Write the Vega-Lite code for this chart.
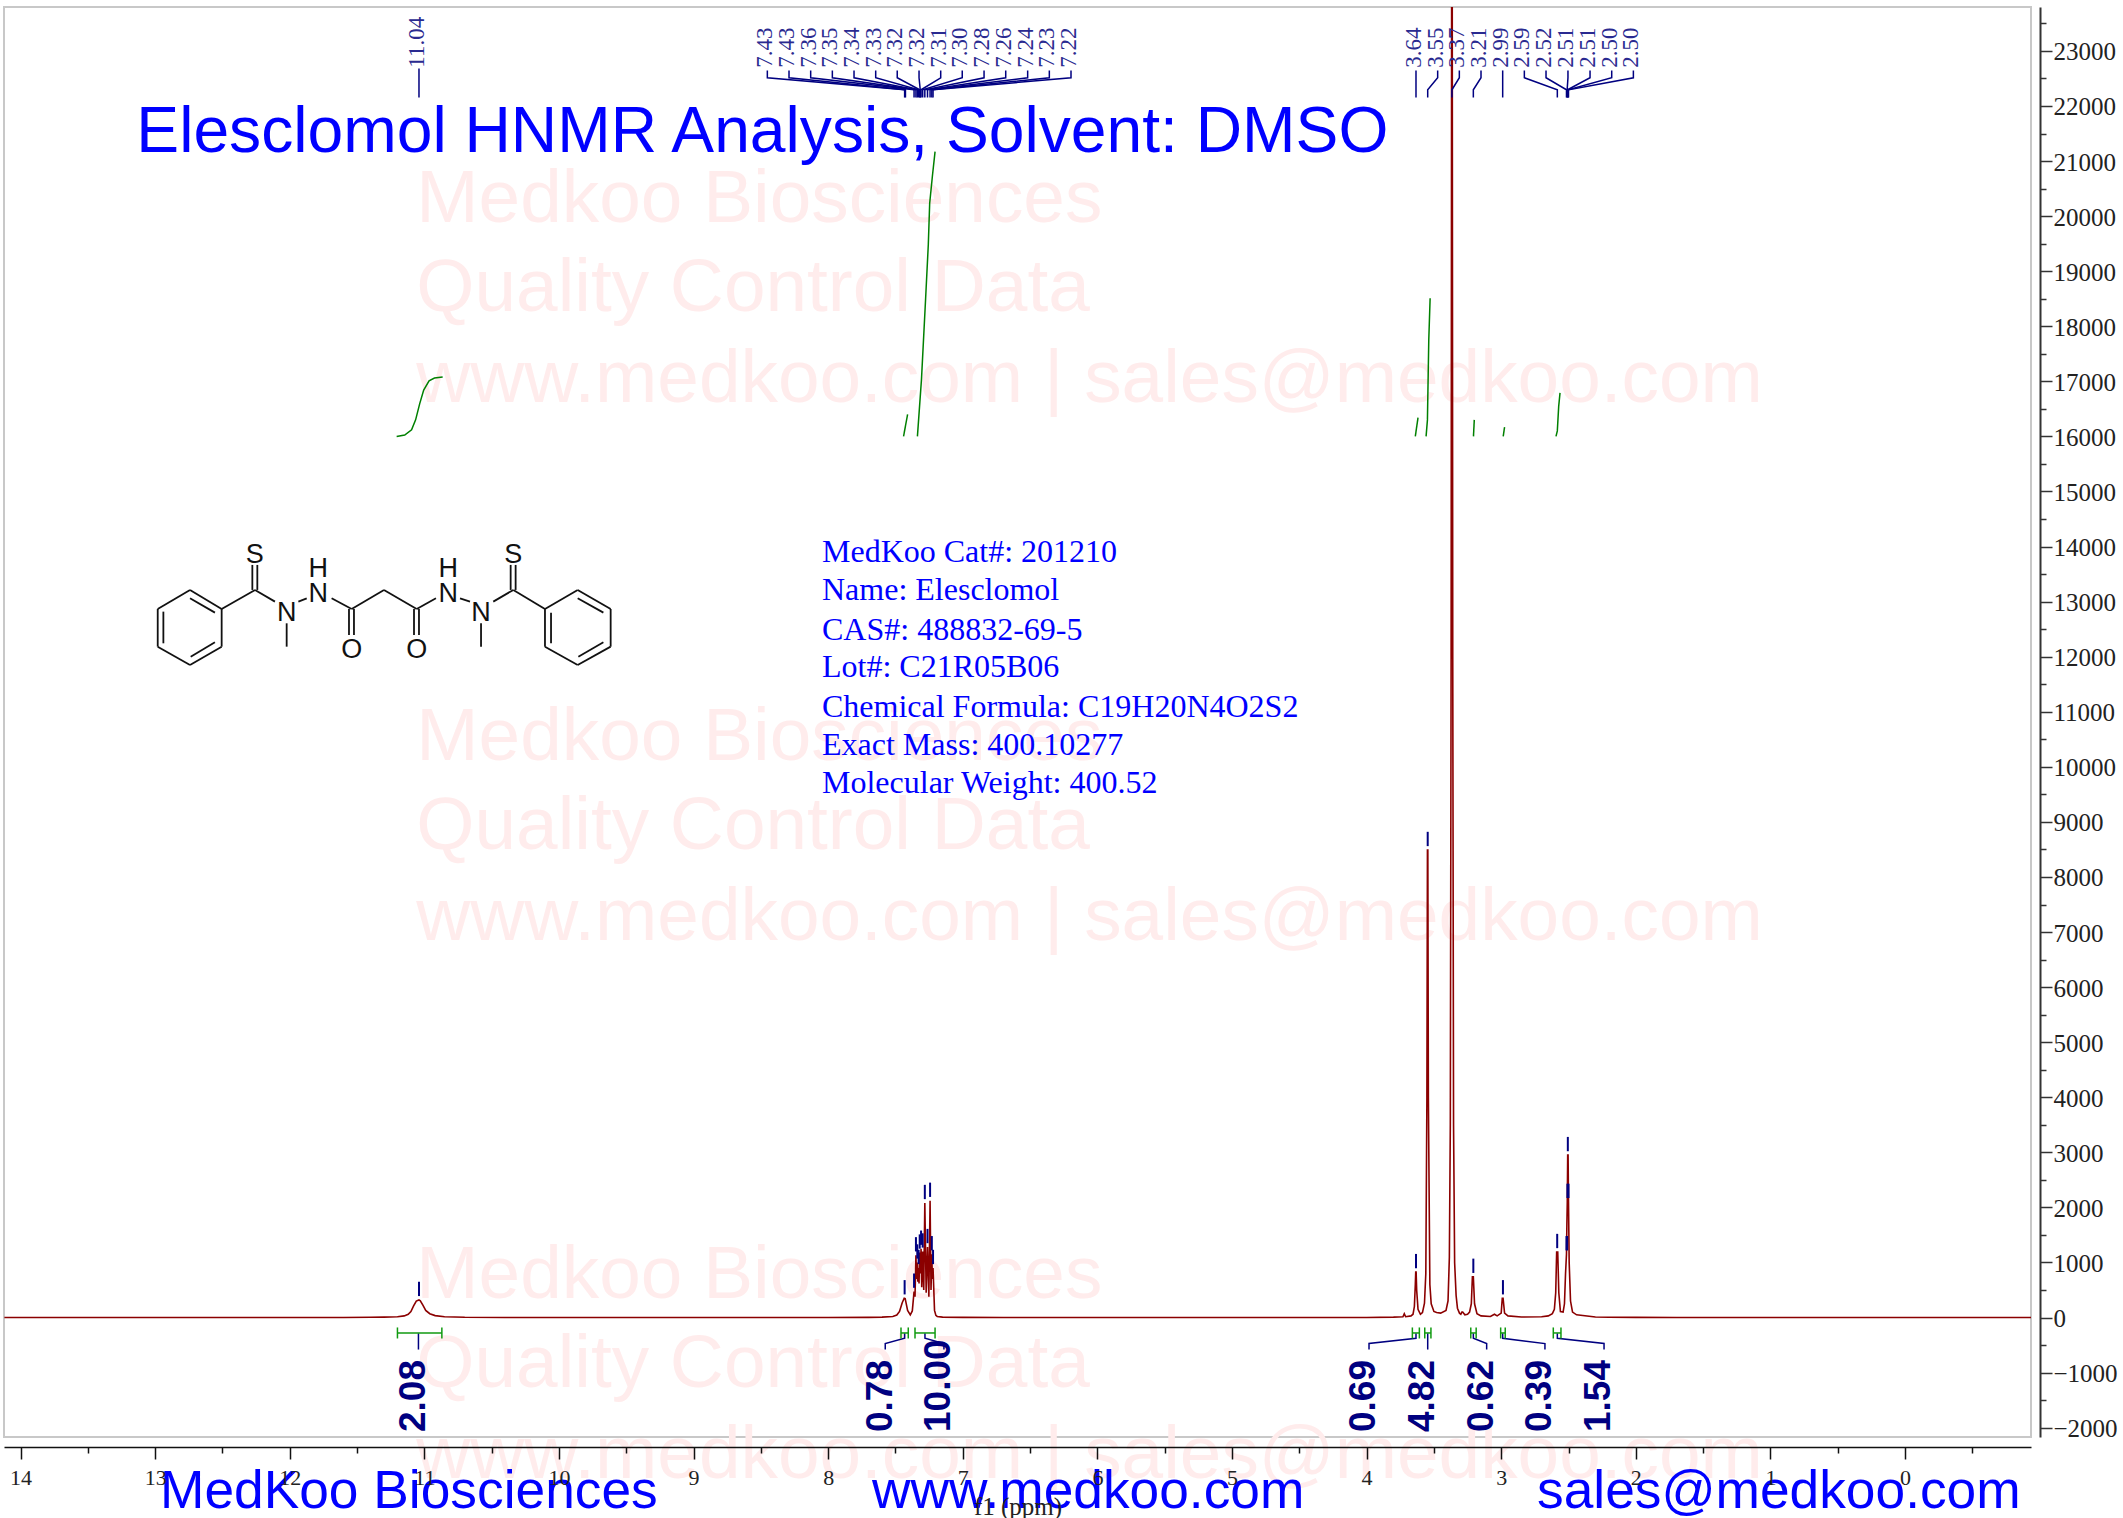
{"$schema":"https://vega.github.io/schema/vega-lite/v6.json","width":2027,"height":1430,"autosize":{"type":"none"},"padding":{"left":4,"top":7,"right":92,"bottom":81},"background":"white","config":{"view":{"stroke":"#c8c8c8","strokeWidth":2}},
"encoding":{"x":{"field":"x","type":"quantitative","scale":{"domain":[-0.936,14.123],"reverse":true,"nice":false,"zero":false},"axis":{"orient":"bottom","offset":10,"zindex":1,"title":"f1 (ppm)","titleFont":"Liberation Serif","titleFontSize":25,"titleFontWeight":"normal","titleColor":"#222","titlePadding":6,"grid":false,"values":[-0.5,0,0.5,1,1.5,2,2.5,3,3.5,4,4.5,5,5.5,6,6.5,7,7.5,8,8.5,9,9.5,10,10.5,11,11.5,12,12.5,13,13.5,14],"labelExpr":"datum.value % 1 === 0 ? format(datum.value,'d') : ''","labelOverlap":false,"labelFlush":false,"labelFont":"Liberation Serif","labelFontSize":22,"labelColor":"#222","labelPadding":8,"domainColor":"#111","domainWidth":1.5,"tickColor":"#111","tickWidth":1.5,"tickSize":{"condition":{"test":"datum.value % 1 === 0","value":12},"value":6}}},"y":{"field":"y","type":"quantitative","scale":{"domain":[-2169,23797],"nice":false,"zero":false},"axis":{"orient":"right","offset":9,"zindex":1,"title":null,"grid":false,"values":[-2000,-1500,-1000,-500,0,500,1000,1500,2000,2500,3000,3500,4000,4500,5000,5500,6000,6500,7000,7500,8000,8500,9000,9500,10000,10500,11000,11500,12000,12500,13000,13500,14000,14500,15000,15500,16000,16500,17000,17500,18000,18500,19000,19500,20000,20500,21000,21500,22000,22500,23000,23500],"labelExpr":"datum.value % 1000 === 0 ? format(datum.value,'d') : ''","labelOverlap":false,"labelFlush":false,"labelFont":"Liberation Serif","labelFontSize":25,"labelColor":"#222","labelPadding":1,"labelOffset":1,"domainColor":"#333","domainWidth":2,"tickColor":"#333","tickWidth":1.5,"tickSize":{"condition":{"test":"datum.value % 1000 === 0","value":12},"value":6}}}},
"layer":[
{"data":{"values":[{"t":"Medkoo Biosciences","x":11.06,"y":20290},{"t":"Quality Control Data","x":11.06,"y":18672},{"t":"www.medkoo.com | sales@medkoo.com","x":11.06,"y":17020},{"t":"Medkoo Biosciences","x":11.06,"y":10516},{"t":"Quality Control Data","x":11.06,"y":8900},{"t":"www.medkoo.com | sales@medkoo.com","x":11.06,"y":7246},{"t":"Medkoo Biosciences","x":11.06,"y":761},{"t":"Quality Control Data","x":11.06,"y":-855},{"t":"www.medkoo.com | sales@medkoo.com","x":11.06,"y":-2508}]},"mark":{"type":"text","font":"Liberation Sans","fontSize":74.8,"color":"#ffecec","align":"left","baseline":"middle"},"encoding":{"text":{"field":"t"}}},
{"data":{"values":[{"x":14.12,"y":0},{"x":13,"y":0},{"x":12,"y":0},{"x":11.6,"y":2},{"x":11.4,"y":5},{"x":11.3,"y":8},{"x":11.2,"y":15},{"x":11.15,"y":30},{"x":11.12,"y":60},{"x":11.1,"y":110},{"x":11.08,"y":210},{"x":11.06,"y":300},{"x":11.04,"y":320},{"x":11.03,"y":305},{"x":11.01,"y":220},{"x":10.99,"y":130},{"x":10.96,"y":70},{"x":10.92,"y":35},{"x":10.85,"y":15},{"x":10.7,"y":5},{"x":10.4,"y":2},{"x":10,"y":0},{"x":9,"y":0},{"x":8,"y":0},{"x":7.7,"y":3},{"x":7.6,"y":8},{"x":7.52,"y":20},{"x":7.49,"y":45},{"x":7.47,"y":110},{"x":7.45,"y":270},{"x":7.435,"y":350},{"x":7.428,"y":345},{"x":7.41,"y":130},{"x":7.39,"y":50},{"x":7.375,"y":120},{"x":7.362,"y":470},{"x":7.355,"y":380},{"x":7.348,"y":1130},{"x":7.344,"y":700},{"x":7.338,"y":1000},{"x":7.334,"y":650},{"x":7.328,"y":900},{"x":7.325,"y":620},{"x":7.32,"y":1180},{"x":7.316,"y":800},{"x":7.31,"y":1250},{"x":7.305,"y":550},{"x":7.298,"y":1200},{"x":7.29,"y":500},{"x":7.282,"y":2080},{"x":7.272,"y":450},{"x":7.262,"y":1280},{"x":7.252,"y":380},{"x":7.243,"y":2120},{"x":7.236,"y":500},{"x":7.23,"y":1150},{"x":7.226,"y":700},{"x":7.221,"y":900},{"x":7.21,"y":130},{"x":7.2,"y":40},{"x":7.19,"y":20},{"x":7.15,"y":8},{"x":7,"y":3},{"x":6.7,"y":1},{"x":6,"y":0},{"x":5,"y":0},{"x":4.5,"y":0},{"x":4,"y":2},{"x":3.8,"y":8},{"x":3.73,"y":15},{"x":3.72,"y":70},{"x":3.71,"y":15},{"x":3.67,"y":30},{"x":3.655,"y":60},{"x":3.645,"y":200},{"x":3.638,"y":600},{"x":3.635,"y":825},{"x":3.632,"y":825},{"x":3.628,"y":500},{"x":3.618,"y":150},{"x":3.6,"y":60},{"x":3.585,"y":90},{"x":3.57,"y":260},{"x":3.56,"y":800},{"x":3.552,"y":4000},{"x":3.548,"y":8490},{"x":3.545,"y":8490},{"x":3.541,"y":4000},{"x":3.53,"y":600},{"x":3.52,"y":250},{"x":3.5,"y":110},{"x":3.48,"y":90},{"x":3.45,"y":80},{"x":3.41,"y":130},{"x":3.395,"y":300},{"x":3.385,"y":1100},{"x":3.378,"y":3500},{"x":3.372,"y":12000},{"x":3.368,"y":25000},{"x":3.364,"y":25000},{"x":3.36,"y":12000},{"x":3.354,"y":3500},{"x":3.346,"y":1000},{"x":3.335,"y":400},{"x":3.325,"y":170},{"x":3.31,"y":80},{"x":3.3,"y":60},{"x":3.292,"y":100},{"x":3.286,"y":100},{"x":3.27,"y":50},{"x":3.25,"y":60},{"x":3.235,"y":100},{"x":3.222,"y":250},{"x":3.214,"y":740},{"x":3.207,"y":740},{"x":3.198,"y":250},{"x":3.18,"y":70},{"x":3.15,"y":30},{"x":3.08,"y":20},{"x":3.05,"y":60},{"x":3.03,"y":30},{"x":3,"y":80},{"x":2.992,"y":350},{"x":2.986,"y":350},{"x":2.975,"y":80},{"x":2.95,"y":30},{"x":2.85,"y":10},{"x":2.7,"y":15},{"x":2.65,"y":30},{"x":2.62,"y":70},{"x":2.605,"y":150},{"x":2.595,"y":450},{"x":2.588,"y":1190},{"x":2.58,"y":1190},{"x":2.572,"y":450},{"x":2.56,"y":110},{"x":2.54,"y":100},{"x":2.53,"y":250},{"x":2.522,"y":800},{"x":2.515,"y":1150},{"x":2.512,"y":1700},{"x":2.509,"y":2100},{"x":2.506,"y":2950},{"x":2.503,"y":2950},{"x":2.5,"y":2100},{"x":2.495,"y":1000},{"x":2.485,"y":300},{"x":2.47,"y":100},{"x":2.44,"y":50},{"x":2.3,"y":10},{"x":2.2,"y":5},{"x":2,"y":3},{"x":1.7,"y":1},{"x":1,"y":0},{"x":0,"y":0},{"x":-0.936,"y":0}]},"mark":{"type":"line","color":"#8b0000","strokeWidth":1.6,"clip":true,"interpolate":"linear"}},
{"data":{"values":[{"x":11.04,"y":390,"x2":11.04,"y2":650},{"x":7.432,"y":420,"x2":7.432,"y2":680},{"x":7.362,"y":540,"x2":7.362,"y2":800},{"x":7.348,"y":1200,"x2":7.348,"y2":1460},{"x":7.338,"y":1070,"x2":7.338,"y2":1330},{"x":7.328,"y":970,"x2":7.328,"y2":1230},{"x":7.32,"y":1250,"x2":7.32,"y2":1510},{"x":7.31,"y":1320,"x2":7.31,"y2":1580},{"x":7.298,"y":1270,"x2":7.298,"y2":1530},{"x":7.282,"y":2150,"x2":7.282,"y2":2410},{"x":7.262,"y":1350,"x2":7.262,"y2":1610},{"x":7.243,"y":2190,"x2":7.243,"y2":2450},{"x":7.23,"y":1220,"x2":7.23,"y2":1480},{"x":7.221,"y":970,"x2":7.221,"y2":1230},{"x":3.633,"y":895,"x2":3.633,"y2":1155},{"x":3.546,"y":8560,"x2":3.546,"y2":8820},{"x":3.207,"y":810,"x2":3.207,"y2":1070},{"x":2.987,"y":420,"x2":2.987,"y2":680},{"x":2.584,"y":1260,"x2":2.584,"y2":1520},{"x":2.515,"y":1220,"x2":2.515,"y2":1480},{"x":2.51,"y":1220,"x2":2.51,"y2":1480},{"x":2.508,"y":2170,"x2":2.508,"y2":2430},{"x":2.505,"y":3020,"x2":2.505,"y2":3280},{"x":2.5,"y":2170,"x2":2.5,"y2":2430}]},"mark":{"type":"rule","color":"#000080","strokeWidth":2},"encoding":{"x2":{"field":"x2"},"y2":{"field":"y2"}}},
{"data":{"values":[{"id":1,"k":1,"x":11.04,"y":22680},{"id":1,"k":2,"x":11.04,"y":22154},{"id":2,"k":1,"x":8.452,"y":22645},{"id":2,"k":2,"x":8.452,"y":22512},{"id":2,"k":3,"x":7.432,"y":22294},{"id":2,"k":4,"x":7.432,"y":22154},{"id":3,"k":1,"x":8.291,"y":22645},{"id":3,"k":2,"x":8.291,"y":22512},{"id":3,"k":3,"x":7.426,"y":22294},{"id":3,"k":4,"x":7.426,"y":22154},{"id":4,"k":1,"x":8.13,"y":22645},{"id":4,"k":2,"x":8.13,"y":22512},{"id":4,"k":3,"x":7.362,"y":22294},{"id":4,"k":4,"x":7.362,"y":22154},{"id":5,"k":1,"x":7.969,"y":22645},{"id":5,"k":2,"x":7.969,"y":22512},{"id":5,"k":3,"x":7.348,"y":22294},{"id":5,"k":4,"x":7.348,"y":22154},{"id":6,"k":1,"x":7.808,"y":22645},{"id":6,"k":2,"x":7.808,"y":22512},{"id":6,"k":3,"x":7.338,"y":22294},{"id":6,"k":4,"x":7.338,"y":22154},{"id":7,"k":1,"x":7.647,"y":22645},{"id":7,"k":2,"x":7.647,"y":22512},{"id":7,"k":3,"x":7.328,"y":22294},{"id":7,"k":4,"x":7.328,"y":22154},{"id":8,"k":1,"x":7.487,"y":22645},{"id":8,"k":2,"x":7.487,"y":22512},{"id":8,"k":3,"x":7.32,"y":22294},{"id":8,"k":4,"x":7.32,"y":22154},{"id":9,"k":1,"x":7.325,"y":22645},{"id":9,"k":2,"x":7.325,"y":22512},{"id":9,"k":3,"x":7.316,"y":22294},{"id":9,"k":4,"x":7.316,"y":22154},{"id":10,"k":1,"x":7.164,"y":22645},{"id":10,"k":2,"x":7.164,"y":22512},{"id":10,"k":3,"x":7.31,"y":22294},{"id":10,"k":4,"x":7.31,"y":22154},{"id":11,"k":1,"x":7.004,"y":22645},{"id":11,"k":2,"x":7.004,"y":22512},{"id":11,"k":3,"x":7.298,"y":22294},{"id":11,"k":4,"x":7.298,"y":22154},{"id":12,"k":1,"x":6.842,"y":22645},{"id":12,"k":2,"x":6.842,"y":22512},{"id":12,"k":3,"x":7.282,"y":22294},{"id":12,"k":4,"x":7.282,"y":22154},{"id":13,"k":1,"x":6.681,"y":22645},{"id":13,"k":2,"x":6.681,"y":22512},{"id":13,"k":3,"x":7.262,"y":22294},{"id":13,"k":4,"x":7.262,"y":22154},{"id":14,"k":1,"x":6.518,"y":22645},{"id":14,"k":2,"x":6.518,"y":22512},{"id":14,"k":3,"x":7.243,"y":22294},{"id":14,"k":4,"x":7.243,"y":22154},{"id":15,"k":1,"x":6.357,"y":22645},{"id":15,"k":2,"x":6.357,"y":22512},{"id":15,"k":3,"x":7.23,"y":22294},{"id":15,"k":4,"x":7.23,"y":22154},{"id":16,"k":1,"x":6.196,"y":22645},{"id":16,"k":2,"x":6.196,"y":22512},{"id":16,"k":3,"x":7.221,"y":22294},{"id":16,"k":4,"x":7.221,"y":22154},{"id":17,"k":1,"x":3.633,"y":22645},{"id":17,"k":2,"x":3.633,"y":22154},{"id":18,"k":1,"x":3.472,"y":22645},{"id":18,"k":2,"x":3.472,"y":22512},{"id":18,"k":3,"x":3.546,"y":22294},{"id":18,"k":4,"x":3.546,"y":22154},{"id":19,"k":1,"x":3.311,"y":22645},{"id":19,"k":2,"x":3.311,"y":22512},{"id":19,"k":3,"x":3.366,"y":22294},{"id":19,"k":4,"x":3.366,"y":22154},{"id":20,"k":1,"x":3.15,"y":22645},{"id":20,"k":2,"x":3.15,"y":22512},{"id":20,"k":3,"x":3.207,"y":22294},{"id":20,"k":4,"x":3.207,"y":22154},{"id":21,"k":1,"x":2.989,"y":22645},{"id":21,"k":2,"x":2.989,"y":22154},{"id":22,"k":1,"x":2.828,"y":22645},{"id":22,"k":2,"x":2.828,"y":22512},{"id":22,"k":3,"x":2.583,"y":22294},{"id":22,"k":4,"x":2.583,"y":22154},{"id":23,"k":1,"x":2.667,"y":22645},{"id":23,"k":2,"x":2.667,"y":22512},{"id":23,"k":3,"x":2.515,"y":22294},{"id":23,"k":4,"x":2.515,"y":22154},{"id":24,"k":1,"x":2.504,"y":22645},{"id":24,"k":2,"x":2.504,"y":22512},{"id":24,"k":3,"x":2.51,"y":22294},{"id":24,"k":4,"x":2.51,"y":22154},{"id":25,"k":1,"x":2.34,"y":22645},{"id":25,"k":2,"x":2.34,"y":22512},{"id":25,"k":3,"x":2.507,"y":22294},{"id":25,"k":4,"x":2.507,"y":22154},{"id":26,"k":1,"x":2.179,"y":22645},{"id":26,"k":2,"x":2.179,"y":22512},{"id":26,"k":3,"x":2.503,"y":22294},{"id":26,"k":4,"x":2.503,"y":22154},{"id":27,"k":1,"x":2.018,"y":22645},{"id":27,"k":2,"x":2.018,"y":22512},{"id":27,"k":3,"x":2.5,"y":22294},{"id":27,"k":4,"x":2.5,"y":22154},{"id":31,"k":1,"x":11.044,"y":-285},{"id":31,"k":2,"x":11.044,"y":-581},{"id":32,"k":1,"x":7.432,"y":-285},{"id":32,"k":2,"x":7.432,"y":-376},{"id":32,"k":3,"x":7.576,"y":-472},{"id":32,"k":4,"x":7.576,"y":-581},{"id":33,"k":1,"x":7.281,"y":-285},{"id":33,"k":2,"x":7.281,"y":-376},{"id":33,"k":3,"x":7.14,"y":-472},{"id":33,"k":4,"x":7.14,"y":-581},{"id":34,"k":1,"x":3.633,"y":-285},{"id":34,"k":2,"x":3.633,"y":-376},{"id":34,"k":3,"x":3.982,"y":-472},{"id":34,"k":4,"x":3.982,"y":-581},{"id":35,"k":1,"x":3.546,"y":-285},{"id":35,"k":2,"x":3.546,"y":-581},{"id":36,"k":1,"x":3.207,"y":-285},{"id":36,"k":2,"x":3.207,"y":-376},{"id":36,"k":3,"x":3.108,"y":-472},{"id":36,"k":4,"x":3.108,"y":-581},{"id":37,"k":1,"x":2.989,"y":-285},{"id":37,"k":2,"x":2.989,"y":-376},{"id":37,"k":3,"x":2.675,"y":-472},{"id":37,"k":4,"x":2.675,"y":-581},{"id":38,"k":1,"x":2.583,"y":-285},{"id":38,"k":2,"x":2.583,"y":-376},{"id":38,"k":3,"x":2.236,"y":-472},{"id":38,"k":4,"x":2.236,"y":-581}]},"mark":{"type":"line","color":"#000080","strokeWidth":1.5},"encoding":{"detail":{"field":"id"},"order":{"field":"k"}}},
{"data":{"values":[{"id":1,"k":1,"x":11.206,"y":16000},{"id":1,"k":2,"x":11.146,"y":16025},{"id":1,"k":3,"x":11.095,"y":16120},{"id":1,"k":4,"x":11.065,"y":16300},{"id":1,"k":5,"x":11.035,"y":16590},{"id":1,"k":6,"x":11.005,"y":16840},{"id":1,"k":7,"x":10.965,"y":17010},{"id":1,"k":8,"x":10.925,"y":17060},{"id":1,"k":9,"x":10.864,"y":17080},{"id":2,"k":1,"x":7.44,"y":16000},{"id":2,"k":2,"x":7.41,"y":16400},{"id":3,"k":1,"x":7.337,"y":16000},{"id":3,"k":2,"x":7.307,"y":17030},{"id":3,"k":3,"x":7.276,"y":18510},{"id":3,"k":4,"x":7.256,"y":19490},{"id":3,"k":5,"x":7.246,"y":20230},{"id":3,"k":6,"x":7.226,"y":20720},{"id":3,"k":7,"x":7.206,"y":21170},{"id":4,"k":1,"x":3.638,"y":16000},{"id":4,"k":2,"x":3.618,"y":16340},{"id":5,"k":1,"x":3.558,"y":16000},{"id":5,"k":2,"x":3.548,"y":16300},{"id":5,"k":3,"x":3.538,"y":17760},{"id":5,"k":4,"x":3.528,"y":18510},{"id":6,"k":1,"x":3.206,"y":16000},{"id":6,"k":2,"x":3.2,"y":16300},{"id":7,"k":1,"x":2.985,"y":16000},{"id":7,"k":2,"x":2.975,"y":16170},{"id":8,"k":1,"x":2.593,"y":16000},{"id":8,"k":2,"x":2.583,"y":16100},{"id":8,"k":3,"x":2.573,"y":16540},{"id":8,"k":4,"x":2.563,"y":16790}]},"mark":{"type":"line","color":"#008000","strokeWidth":1.5},"encoding":{"detail":{"field":"id"},"order":{"field":"k"}}},
{"data":{"values":[{"x":11.2,"x2":10.87,"y":-280,"y2":-280},{"x":11.2,"x2":11.2,"y":-180,"y2":-380},{"x":10.87,"x2":10.87,"y":-180,"y2":-380},{"x":7.459,"x2":7.405,"y":-280,"y2":-280},{"x":7.459,"x2":7.459,"y":-180,"y2":-380},{"x":7.405,"x2":7.405,"y":-180,"y2":-380},{"x":7.355,"x2":7.206,"y":-280,"y2":-280},{"x":7.355,"x2":7.355,"y":-180,"y2":-380},{"x":7.206,"x2":7.206,"y":-180,"y2":-380},{"x":3.66,"x2":3.608,"y":-280,"y2":-280},{"x":3.66,"x2":3.66,"y":-180,"y2":-380},{"x":3.608,"x2":3.608,"y":-180,"y2":-380},{"x":3.568,"x2":3.522,"y":-280,"y2":-280},{"x":3.568,"x2":3.568,"y":-180,"y2":-380},{"x":3.522,"x2":3.522,"y":-180,"y2":-380},{"x":3.226,"x2":3.186,"y":-280,"y2":-280},{"x":3.226,"x2":3.226,"y":-180,"y2":-380},{"x":3.186,"x2":3.186,"y":-180,"y2":-380},{"x":3.004,"x2":2.97,"y":-280,"y2":-280},{"x":3.004,"x2":3.004,"y":-180,"y2":-380},{"x":2.97,"x2":2.97,"y":-180,"y2":-380},{"x":2.613,"x2":2.556,"y":-280,"y2":-280},{"x":2.613,"x2":2.613,"y":-180,"y2":-380},{"x":2.556,"x2":2.556,"y":-180,"y2":-380}]},"mark":{"type":"rule","color":"#109a10","strokeWidth":1.5},"encoding":{"x2":{"field":"x2"},"y2":{"field":"y2"}}},
{"data":{"values":[{"t":"11.04","x":11.055,"y":22694},{"t":"7.43","x":8.467,"y":22694},{"t":"7.43","x":8.306,"y":22694},{"t":"7.36","x":8.145,"y":22694},{"t":"7.35","x":7.984,"y":22694},{"t":"7.34","x":7.823,"y":22694},{"t":"7.33","x":7.662,"y":22694},{"t":"7.32","x":7.502,"y":22694},{"t":"7.32","x":7.34,"y":22694},{"t":"7.31","x":7.179,"y":22694},{"t":"7.30","x":7.019,"y":22694},{"t":"7.28","x":6.857,"y":22694},{"t":"7.26","x":6.696,"y":22694},{"t":"7.24","x":6.533,"y":22694},{"t":"7.23","x":6.372,"y":22694},{"t":"7.22","x":6.211,"y":22694},{"t":"3.64","x":3.648,"y":22694},{"t":"3.55","x":3.487,"y":22694},{"t":"3.37","x":3.326,"y":22694},{"t":"3.21","x":3.165,"y":22694},{"t":"2.99","x":3.004,"y":22694},{"t":"2.59","x":2.843,"y":22694},{"t":"2.52","x":2.682,"y":22694},{"t":"2.51","x":2.519,"y":22694},{"t":"2.51","x":2.355,"y":22694},{"t":"2.50","x":2.194,"y":22694},{"t":"2.50","x":2.033,"y":22694}]},"mark":{"type":"text","font":"Liberation Serif","fontSize":23,"color":"#2a2a90","angle":270,"align":"left","baseline":"middle"},"encoding":{"text":{"field":"t"}}},
{"data":{"values":[{"t":"2.08","x":11.075,"y":-2078},{"t":"0.78","x":7.61,"y":-2078},{"t":"10.00","x":7.173,"y":-2078},{"t":"0.69","x":4.019,"y":-2078},{"t":"4.82","x":3.581,"y":-2078},{"t":"0.62","x":3.143,"y":-2078},{"t":"0.39","x":2.712,"y":-2078},{"t":"1.54","x":2.273,"y":-2078}]},"mark":{"type":"text","font":"Liberation Sans","fontSize":37,"fontWeight":"bold","color":"#000080","angle":270,"align":"left","baseline":"middle"},"encoding":{"text":{"field":"t"}}},
{"data":{"values":[{"x":12.741,"y":13212,"x2":12.506,"y2":12866},{"x":12.506,"y":12866,"x2":12.506,"y2":12182},{"x":12.506,"y":12182,"x2":12.741,"y2":11849},{"x":12.741,"y":11849,"x2":12.981,"y2":12182},{"x":12.981,"y":12182,"x2":12.981,"y2":12866},{"x":12.981,"y":12866,"x2":12.741,"y2":13212},{"x":12.741,"y":13060,"x2":12.556,"y2":12800},{"x":12.939,"y":12818,"x2":12.939,"y2":12243},{"x":12.736,"y":12000,"x2":12.556,"y2":12261},{"x":12.506,"y":12866,"x2":12.258,"y2":13212},{"x":12.278,"y":13212,"x2":12.278,"y2":13666},{"x":12.241,"y":13212,"x2":12.241,"y2":13666},{"x":12.258,"y":13212,"x2":12.11,"y2":13000},{"x":12.023,"y":12606,"x2":12.023,"y2":12182},{"x":11.936,"y":13000,"x2":11.874,"y2":13060},{"x":11.689,"y":13060,"x2":11.54,"y2":12866},{"x":11.56,"y":12866,"x2":11.56,"y2":12394},{"x":11.523,"y":12866,"x2":11.523,"y2":12394},{"x":11.54,"y":12866,"x2":11.3,"y2":13212},{"x":11.3,"y":13212,"x2":11.057,"y2":12866},{"x":11.077,"y":12866,"x2":11.077,"y2":12394},{"x":11.04,"y":12866,"x2":11.04,"y2":12394},{"x":11.057,"y":12866,"x2":10.914,"y2":13060},{"x":10.735,"y":13060,"x2":10.661,"y2":13000},{"x":10.579,"y":12606,"x2":10.579,"y2":12182},{"x":10.488,"y":13000,"x2":10.339,"y2":13212},{"x":10.359,"y":13212,"x2":10.359,"y2":13666},{"x":10.322,"y":13212,"x2":10.322,"y2":13666},{"x":10.339,"y":13212,"x2":10.104,"y2":12866},{"x":10.104,"y":12866,"x2":9.861,"y2":13212},{"x":9.861,"y":13212,"x2":9.616,"y2":12866},{"x":9.616,"y":12866,"x2":9.616,"y2":12182},{"x":9.616,"y":12182,"x2":9.861,"y2":11849},{"x":9.861,"y":11849,"x2":10.104,"y2":12182},{"x":10.104,"y":12182,"x2":10.104,"y2":12866},{"x":9.861,"y":13060,"x2":9.67,"y2":12800},{"x":10.059,"y":12800,"x2":10.059,"y2":12243},{"x":9.856,"y":12000,"x2":9.67,"y2":12261}]},"mark":{"type":"rule","color":"#111","strokeWidth":1.8},"encoding":{"x2":{"field":"x2"},"y2":{"field":"y2"}}},
{"data":{"values":[{"t":"S","x":12.26,"y":13840},{"t":"N","x":12.023,"y":12790},{"t":"H","x":11.788,"y":13600},{"t":"N","x":11.788,"y":13140},{"t":"O","x":11.54,"y":12130},{"t":"O","x":11.057,"y":12130},{"t":"H","x":10.822,"y":13600},{"t":"N","x":10.822,"y":13140},{"t":"N","x":10.579,"y":12790},{"t":"S","x":10.339,"y":13840}]},"mark":{"type":"text","font":"Liberation Sans","fontSize":27,"color":"#111","align":"center","baseline":"middle"},"encoding":{"text":{"field":"t"}}},
{"data":{"values":[{"t":"MedKoo Cat#: 201210","x":8.046,"y":13893},{"t":"Name: Elesclomol","x":8.046,"y":13202},{"t":"CAS#: 488832-69-5","x":8.046,"y":12492},{"t":"Lot#: C21R05B06","x":8.046,"y":11804},{"t":"Chemical Formula: C19H20N4O2S2","x":8.046,"y":11090},{"t":"Exact Mass: 400.10277","x":8.046,"y":10401},{"t":"Molecular Weight: 400.52","x":8.046,"y":9713}]},"mark":{"type":"text","font":"Liberation Serif","fontSize":32,"color":"#0000ff","align":"left","baseline":"middle"},"encoding":{"text":{"field":"t"}}},
{"data":{"values":[{"t":"Elesclomol HNMR Analysis, Solvent: DMSO","x":13.14,"y":21510}]},"mark":{"type":"text","font":"Liberation Sans","fontSize":64.2,"color":"#0000ff","align":"left","baseline":"middle"},"encoding":{"text":{"field":"t"}}},
{"data":{"values":[{"t":"MedKoo Biosciences","x":12.964,"y":-3175},{"t":"www.medkoo.com","x":7.675,"y":-3175},{"t":"sales@medkoo.com","x":2.734,"y":-3175}]},"mark":{"type":"text","font":"Liberation Sans","fontSize":53.3,"color":"#0000ff","align":"left","baseline":"middle"},"encoding":{"text":{"field":"t"}}}
]}
